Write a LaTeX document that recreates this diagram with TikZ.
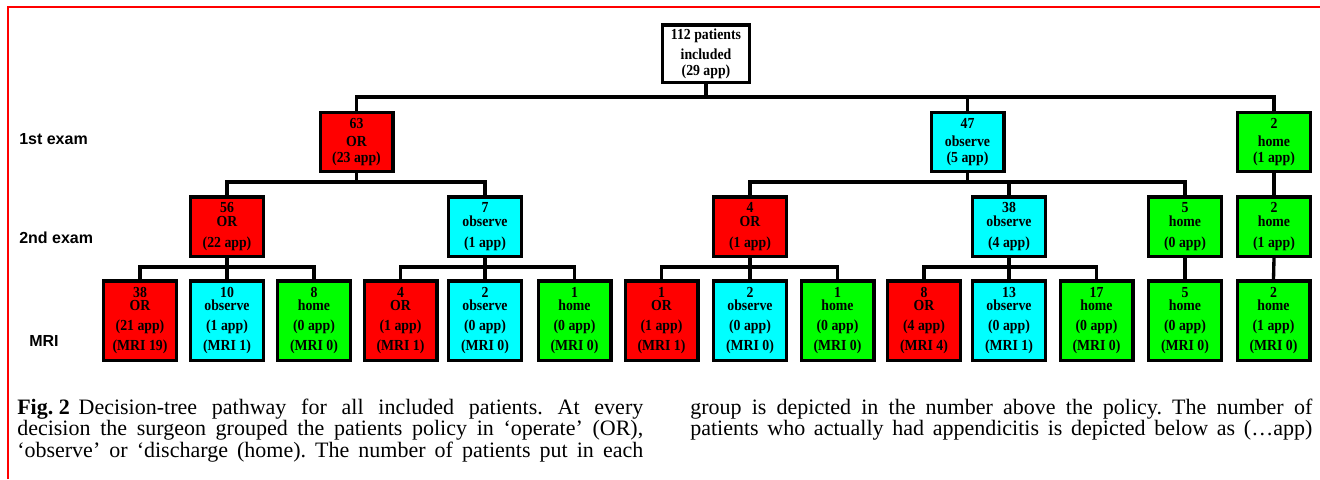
\documentclass[tikz,border=0pt]{standalone}
\usepackage{fontspec}
\setmainfont{Liberation Serif}
\newfontfamily\boxfont[FakeStretch=0.9]{Liberation Serif}
\newfontfamily\lblfont{Liberation Sans}
\definecolor{orred}{RGB}{255,0,0}
\definecolor{obscyan}{RGB}{0,255,255}
\definecolor{homegreen}{RGB}{0,255,0}
\definecolor{framered}{RGB}{255,0,0}
\frenchspacing
\tikzset{
  box/.style={draw=black, line width=2.6pt, inner sep=0pt, align=center, text=black,
    font=\boxfont\bfseries\fontsize{11.5}{9.75}\selectfont},
  rootbox/.style={box, fill=white, minimum width=65.6pt, minimum height=43.1pt},
  boxL1/.style={box, minimum width=54.4pt, minimum height=43.9pt},
  boxL2/.style={box, minimum width=54.4pt, minimum height=44.6pt},
  boxL3/.style={box, minimum width=54.4pt, minimum height=59.6pt},
  orbox/.style={fill=orred},
  obsbox/.style={fill=obscyan},
  homebox/.style={fill=homegreen},
  conn/.style={draw=black, line width=2.5pt},
  rowlbl/.style={font=\lblfont\bfseries\fontsize{12}{14}\selectfont, anchor=west, inner sep=0pt},
  capline/.style={anchor=base west, inner sep=0pt, font=\fontsize{16.5}{16}\selectfont}
}
\begin{document}
\begin{tikzpicture}[x=0.75pt,y=-0.75pt]
\useasboundingbox (0,0) rectangle (1320,479);
% frame
\draw[framered, line width=1.5pt] (8,479) -- (8,7) -- (1320,7);
% bus levels
\coordinate (busA) at (0,97);
\coordinate (busB) at (0,182);
\coordinate (busC) at (0,267);
% root
\node[rootbox] (root) at (706,53.5) {112 patients\\[3.75pt]included\\[2.25pt](29 app)};
% level 1
\node[boxL1, orbox] (a63) at (356.5,142) {63\\[3.75pt]OR\\[2.25pt](23 app)};
\node[boxL1, obsbox] (a47) at (967.5,142) {47\\[3.75pt]observe\\[2.25pt](5 app)};
\node[boxL1, homebox] (a2) at (1274,142) {2\\[3.75pt]home\\[2.25pt](1 app)};
% level 2
\node[boxL2, orbox] (b56) at (227,226.5) {56\\[0.75pt]OR\\[6pt](22 app)};
\node[boxL2, obsbox] (b7) at (485,226.5) {7\\[0.75pt]observe\\[6pt](1 app)};
\node[boxL2, orbox] (b4) at (750,226.5) {4\\[0.75pt]OR\\[6pt](1 app)};
\node[boxL2, obsbox] (b38) at (1009,226.5) {38\\[0.75pt]observe\\[6pt](4 app)};
\node[boxL2, homebox] (b5) at (1185,226.5) {5\\[0.75pt]home\\[6pt](0 app)};
\node[boxL2, homebox] (b2) at (1274,226.5) {2\\[0.75pt]home\\[6pt](1 app)};
% level 3 (MRI)
\node[boxL3, orbox] (c1) at (140,320.5) {38\\OR\\[5.25pt](21 app)\\[3pt](MRI 19)};
\node[boxL3, obsbox] (c2) at (227,320.5) {10\\observe\\[5.25pt](1 app)\\[3pt](MRI 1)};
\node[boxL3, homebox] (c3) at (314,320.5) {8\\home\\[5.25pt](0 app)\\[3pt](MRI 0)};
\node[boxL3, orbox] (c4) at (400.5,320.5) {4\\OR\\[5.25pt](1 app)\\[3pt](MRI 1)};
\node[boxL3, obsbox] (c5) at (485,320.5) {2\\observe\\[5.25pt](0 app)\\[3pt](MRI 0)};
\node[boxL3, homebox] (c6) at (574.5,320.5) {1\\home\\[5.25pt](0 app)\\[3pt](MRI 0)};
\node[boxL3, orbox] (c7) at (661.5,320.5) {1\\OR\\[5.25pt](1 app)\\[3pt](MRI 1)};
\node[boxL3, obsbox] (c8) at (750,320.5) {2\\observe\\[5.25pt](0 app)\\[3pt](MRI 0)};
\node[boxL3, homebox] (c9) at (837.5,320.5) {1\\home\\[5.25pt](0 app)\\[3pt](MRI 0)};
\node[boxL3, orbox] (c10) at (924,320.5) {8\\OR\\[5.25pt](4 app)\\[3pt](MRI 4)};
\node[boxL3, obsbox] (c11) at (1009,320.5) {13\\observe\\[5.25pt](0 app)\\[3pt](MRI 1)};
\node[boxL3, homebox] (c12) at (1096.5,320.5) {17\\home\\[5.25pt](0 app)\\[3pt](MRI 0)};
\node[boxL3, homebox] (c13) at (1185,320.5) {5\\home\\[5.25pt](0 app)\\[3pt](MRI 0)};
\node[boxL3, homebox] (c14) at (1273.5,320.5) {2\\home\\[5.25pt](1 app)\\[3pt](MRI 0)};
% connectors root -> level 1
\draw[conn] (a63.north) |- (a2.north |- busA) -- (a2.north);
\draw[conn] (root.south) -- (root.south |- busA);
\draw[conn] (a47.north) -- (a47.north |- busA);
% level 1 -> level 2
\draw[conn] (b56.north) |- (b7.north |- busB) -- (b7.north);
\draw[conn] (a63.south) -- (a63.south |- busB);
\draw[conn] (b4.north) |- (b5.north |- busB) -- (b5.north);
\draw[conn] (a47.south) -- (a47.south |- busB);
\draw[conn] (b38.north) -- (b38.north |- busB);
\draw[conn] (a2.south) -- (b2.north);
% level 2 -> level 3
\draw[conn] (c1.north) |- (c3.north |- busC) -- (c3.north);
\draw[conn] (b56.south) -- (b56.south |- busC);
\draw[conn] (c2.north) -- (c2.north |- busC);
\draw[conn] (c4.north) |- (c6.north |- busC) -- (c6.north);
\draw[conn] (b7.south) -- (b7.south |- busC);
\draw[conn] (c5.north) -- (c5.north |- busC);
\draw[conn] (c7.north) |- (c9.north |- busC) -- (c9.north);
\draw[conn] (b4.south) -- (b4.south |- busC);
\draw[conn] (c8.north) -- (c8.north |- busC);
\draw[conn] (c10.north) |- (c12.north |- busC) -- (c12.north);
\draw[conn] (b38.south) -- (b38.south |- busC);
\draw[conn] (c11.north) -- (c11.north |- busC);
\draw[conn] (b5.south) -- (c13.north);
\draw[conn] (b2.south) -- (c14.north);
% row labels
\node[rowlbl] (lbl1) at (19,139) {1st exam};
\node[rowlbl] (lbl2) at (19,238) {2nd exam};
\node[rowlbl] (lbl3) at (29,341) {MRI};
% caption
\node[capline] (cap1) at (17,414) {\makebox[469.5pt][s]{\textbf{Fig.\kern0.25em 2}\kern0.4em Decision-tree pathway for all included patients. At every}};
\node[capline] (cap2) at (17,435.5) {\makebox[469.5pt][s]{decision the surgeon grouped the patients policy in ‘operate’ (OR),}};
\node[capline] (cap3) at (17,457) {\makebox[469.5pt][s]{‘observe’ or ‘discharge (home). The number of patients put in each}};
\node[capline] (cap4) at (690,414) {\makebox[466.5pt][s]{group is depicted in the number above the policy. The number of}};
\node[capline] (cap5) at (690,435.5) {\makebox[466.5pt][s]{patients who actually had appendicitis is depicted below as (…app)}};
\end{tikzpicture}
\end{document}
